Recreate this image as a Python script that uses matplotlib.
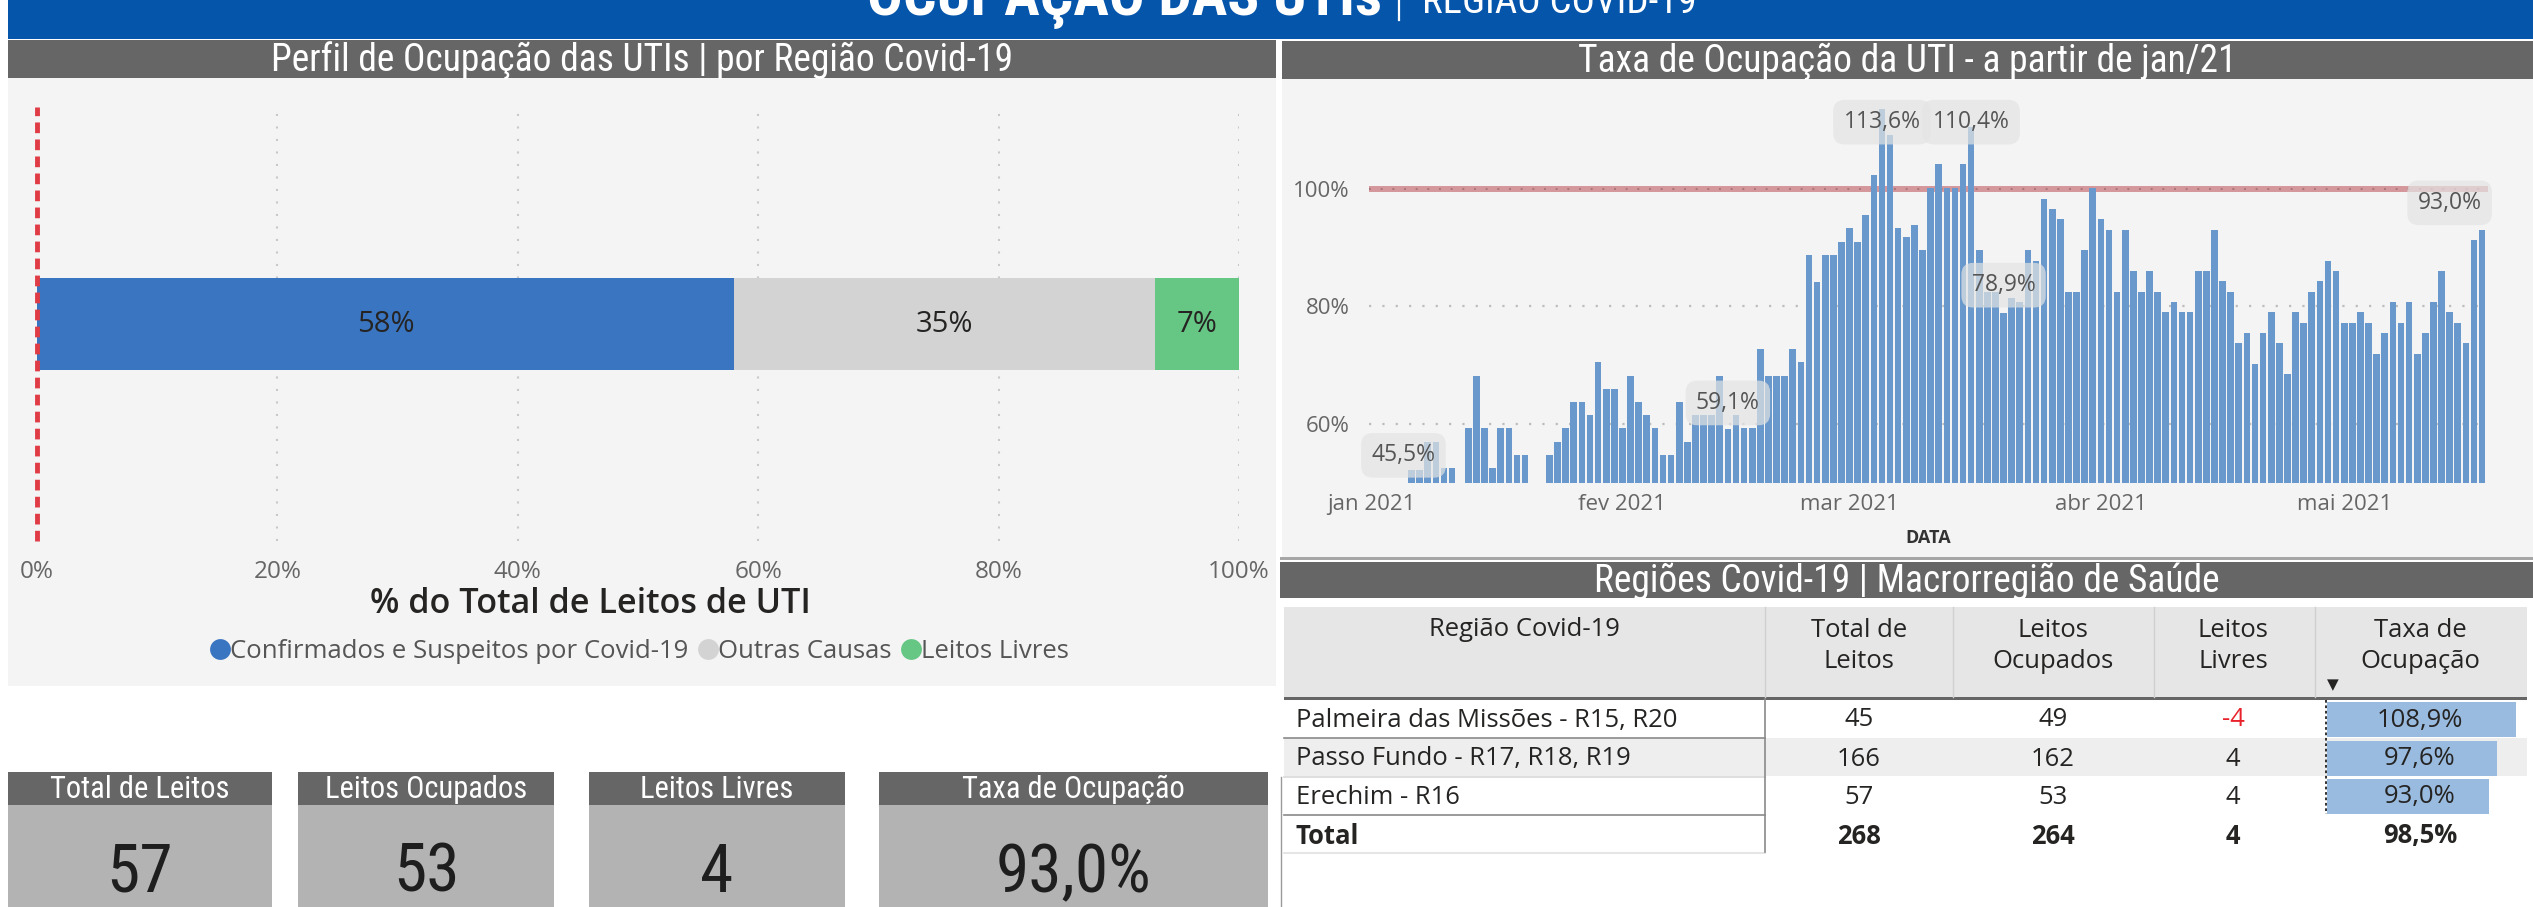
import numpy as np
import pandas as pd
import matplotlib
matplotlib.use("Agg")
import matplotlib.pyplot as plt
import matplotlib.dates as mdates
from matplotlib import font_manager as fm
from matplotlib.patches import Rectangle
from matplotlib.lines import Line2D

plt.rcParams['font.family'] = ['Open Sans', 'DejaVu Sans']

# ---------------- data ----------------
title_main = "OCUPAÇÃO DAS UTIs"
title_sub = "REGIÃO COVID-19"
panel_titles = ["Perfil de Ocupação das UTIs | por Região Covid-19",
                "Taxa de Ocupação da UTI - a partir de jan/21",
                "Regiões Covid-19 | Macrorregião de Saúde"]

profile_categories = ["Confirmados e Suspeitos por Covid-19", "Outras Causas", "Leitos Livres"]
profile_shares = [58, 35, 7]
profile_colors = ["#3A75C2", "#D3D3D3", "#66C684"]
profile_ticks = [0, 20, 40, 60, 80, 100]
profile_xlabel = "% do Total de Leitos de UTI"

occupancy_start = "2021-01-06"
occupancy_pct = [
    52.2, 52.2, 56.9, 56.9, 52.5, 52.5, np.nan, 59.3, 68.2, 59.3,
    52.5, 59.3, 59.3, 54.7, 54.7, np.nan, np.nan, 54.7, 56.9, 59.3,
    63.8, 63.8, 61.5, 70.6, 66.0, 66.0, 59.3, 68.2, 63.8, 61.5,
    59.3, 54.7, 54.7, 63.8, 56.9, 61.5, 61.5, 61.5, 68.2, 59.1,
    61.5, 59.3, 59.3, 72.8, 68.2, 68.2, 68.2, 72.8, 70.6, 88.8,
    84.2, 88.8, 88.8, 91.0, 93.3, 91.0, 95.5, 102.3, 113.6, 109.1,
    93.3, 91.8, 93.8, 89.6, 100.1, 104.2, 100.1, 100.1, 104.2, 110.4,
    89.6, 82.5, 82.5, 78.9, 81.5, 80.8, 89.6, 87.7, 98.2, 96.6,
    94.9, 82.5, 82.5, 89.6, 100.1, 94.9, 93.0, 82.5, 93.0, 86.0,
    82.5, 86.0, 82.5, 79.1, 80.8, 79.1, 79.1, 86.0, 86.0, 93.0,
    84.4, 82.5, 73.8, 75.5, 70.3, 75.5, 79.1, 73.8, 68.6, 79.1,
    77.2, 82.5, 84.4, 87.7, 86.0, 77.2, 77.2, 79.1, 77.2, 72.0,
    75.5, 80.8, 77.2, 80.8, 72.0, 75.5, 80.8, 86.0, 79.1, 77.2,
    73.8, 91.3, 93.0,
]
month_ticks = ["2021-01-01", "2021-02-01", "2021-03-01", "2021-04-01", "2021-05-01"]
month_labels = ["jan 2021", "fev 2021", "mar 2021", "abr 2021", "mai 2021"]
occ_yticks = [60, 80, 100]
reference_level = 100
callout_dates = ["2021-01-05", "2021-02-14", "2021-03-05", "2021-03-16", "2021-03-20", "2021-05-14"]
callout_texts = ["45,5%", "59,1%", "113,6%", "110,4%", "78,9%", "93,0%"]
callout_levels = [54.7, 63.6, 111.3, 111.3, 83.6, 97.6]

table_columns = ["Região Covid-19", "Total de\nLeitos", "Leitos\nOcupados", "Leitos\nLivres", "Taxa de\nOcupação"]
regions = ["Palmeira das Missões - R15, R20", "Passo Fundo - R17, R18, R19", "Erechim - R16"]
total_beds = [45, 166, 57]
occupied_beds = [49, 162, 53]
free_beds = [-4, 4, 4]
occupancy_rate = [108.9, 97.6, 93.0]
total_label = "Total"
total_rate = 98.5

kpi_titles = ["Total de Leitos", "Leitos Ocupados", "Leitos Livres", "Taxa de Ocupação"]
kpi_values = ["57", "53", "4", "93,0%"]


# ---------------- condensed font lookup ----------------
def _wnum(w):
    if isinstance(w, (int, float)):
        return w
    return fm.weight_dict.get(str(w).lower(), 400)


def narrow_font(bold=False):
    prefs = ['liberationsansnarrow', 'robotocondensed', 'notosans-condensed',
             'dejavusanscondensed', 'opensanscondensed', 'opensans_condensed',
             'notosansdisplay-condensed', 'condensed', 'narrow']
    best = None
    for f in fm.fontManager.ttflist:
        fn = f.fname.lower().replace(' ', '')
        base = fn.split('/')[-1]
        if f.style != 'normal' or 'italic' in base:
            continue
        if 'extra' in base or 'ultra' in base or 'semi' in base:
            continue
        st = str(f.stretch).lower()
        cond = ('narrow' in base or 'condensed' in base or 'condensed' in st
                or (isinstance(f.stretch, int) and f.stretch < 500))
        if not cond:
            continue
        w = _wnum(f.weight)
        if bold and w < 600:
            continue
        if not bold and not (350 <= w <= 500):
            continue
        rank = next((i for i, p in enumerate(prefs) if p in base), len(prefs))
        if best is None or rank < best[0]:
            best = (rank, f.fname)
    if best is not None:
        return fm.FontProperties(fname=best[1])
    return fm.FontProperties(family=['Roboto', 'DejaVu Sans'],
                             weight='bold' if bold else 'normal')


NARROW = narrow_font(False)
NARROW_B = narrow_font(True)

# ---------------- figure ----------------
W, H = 2533, 907
DPI = 100
fig = plt.figure(figsize=(W / DPI, H / DPI), dpi=DPI, facecolor='white')
renderer = fig.canvas.get_renderer()


def frect(x0, y0, x1, y1):
    return [x0 / W, 1 - y1 / H, (x1 - x0) / W, (y1 - y0) / H]


bg = fig.add_axes([0, 0, 1, 1])
bg.set_xlim(0, W)
bg.set_ylim(H, 0)
bg.axis('off')


def box(x0, y0, x1, y1, color, z=0):
    bg.add_patch(Rectangle((x0, y0), x1 - x0, y1 - y0, facecolor=color,
                           edgecolor='none', zorder=z))


def hline(x0, x1, y, color, lw=1.0, ls='-', z=3):
    bg.add_line(Line2D([x0, x1], [y, y], color=color, lw=lw, ls=ls, zorder=z))


def vline(x, y0, y1, color, lw=1.0, ls='-', z=3):
    bg.add_line(Line2D([x, x], [y0, y1], color=color, lw=lw, ls=ls, zorder=z))


def fit(t, target_w, max_size=None):
    w = t.get_window_extent(renderer).width
    s = t.get_fontsize() * target_w / max(w, 1)
    if max_size is not None:
        s = min(s, max_size)
    t.set_fontsize(s)
    return t


def fitted_size(s, fp, size, target_w):
    p = fp.copy()
    p.set_size(size)
    t = bg.text(0, 0, s, fontproperties=p)
    w = t.get_window_extent(renderer).width
    t.remove()
    return size * target_w / max(w, 1)


def ntext(x, y, s, fp, size, target_w=None, max_size=None, **kw):
    ns = size if target_w is None else fitted_size(s, fp, size, target_w)
    if max_size is not None:
        ns = min(ns, max_size)
    p = fp.copy()
    p.set_size(ns)
    return bg.text(x, y, s, fontproperties=p, zorder=5, **kw)


# title bar
box(8, 0, W, 39, '#0555AB')
ntext(867, 15, title_main, NARROW_B, 40, 514, color='white', ha='left', va='baseline')
vline(1399, 0, 20, 'white', lw=1.6, z=5)
ntext(1422, 13, title_sub, NARROW, 26, 275, max_size=30, color='white', ha='left', va='baseline')

# panel backgrounds and headers
box(8, 40, 1276, 78, '#666666', 1)
box(8, 78, 1276, 686, '#F4F4F4', 0)
box(1282, 41, W, 79, '#666666', 1)
box(1282, 79, W, 557, '#F4F4F4', 0)
box(1280, 557, W, 560, '#A6A6A6', 1)
box(1280, 562, W, 598, '#666666', 1)
for (cx, cy, tw), t in zip([(642, 60, 754), (1907, 61, 659), (1907, 581, 645)], panel_titles):
    ntext(cx, cy, t, NARROW, 24, tw, max_size=27, color='white', ha='center', va='center')

# ---------------- left chart: stacked bar ----------------
ax1 = fig.add_axes(frect(37, 107, 1239, 541))
ax1.set_facecolor('none')
left = 0
for share, color in zip(profile_shares, profile_colors):
    ax1.barh(0, share, left=left, height=0.424, color=color, zorder=2)
    ax1.text(left + share / 2, 0, f"{share}%", ha='center', va='center',
             fontsize=21, color='#252423', zorder=3)
    left += share
ax1.set_xlim(0, 100)
ax1.set_ylim(-1, 1)
for t in profile_ticks[1:]:
    ax1.axvline(t, color='#C8C8C8', lw=1.5, ls=(0, (1, 5)), zorder=0)
ax1.axvline(0, color='#E03C46', lw=3.5, ls=(0, (2.2, 1.3)), zorder=4, clip_on=False)
ax1.set_xticks(profile_ticks)
ax1.set_xticklabels([f"{t}%" for t in profile_ticks])
ax1.tick_params(axis='x', length=0, pad=14, labelsize=17.5, labelcolor='#666666')
ax1.set_yticks([])
for s in ax1.spines.values():
    s.set_visible(False)
xl = bg.text(590, 604, profile_xlabel, fontsize=20, fontweight='semibold',
             color='#252423', ha='center', va='center', zorder=5)
fit(xl, 440)
handles = [Line2D([], [], marker='o', ls='none', markersize=15, markerfacecolor=c,
                  markeredgecolor='none') for c in profile_colors]
leg = bg.legend(handles, profile_categories, loc='center',
                bbox_to_anchor=(640 / W, 1 - 651 / H), bbox_transform=fig.transFigure,
                ncol=3, frameon=False, fontsize=18.5, handlelength=0.7,
                handletextpad=0.05, columnspacing=0.4, labelcolor='#555555')

# ---------------- right chart: daily occupancy ----------------
ax2 = fig.add_axes(frect(1369, 94.5, 2488, 483))
ax2.set_facecolor('none')
vals = np.array(occupancy_pct, dtype=float)
dates = pd.date_range(occupancy_start, periods=len(vals), freq='D')
mask = ~np.isnan(vals)
ax2.bar(dates[mask], vals[mask], width=0.82, color='#6898CC', zorder=2)
ax2.axhline(reference_level, color='#D4979C', lw=4.3, zorder=1)
ax2.axhline(reference_level, color='#A8777B', lw=1.4, ls=(0, (1, 5)), zorder=1.1)
for v in occ_yticks[:-1]:
    ax2.axhline(v, color='#BDBDBD', lw=1.6, ls=(0, (1, 5)), zorder=0.5)
x0 = mdates.date2num(pd.Timestamp(month_ticks[0])) - 0.25
ax2.set_xlim(x0, x0 + 137.98)
ax2.set_ylim(50, 116)
ax2.set_yticks(occ_yticks)
ax2.set_yticklabels([f"{v}%" for v in occ_yticks])
ax2.set_xticks(pd.to_datetime(month_ticks))
ax2.set_xticklabels(month_labels)
ax2.tick_params(axis='y', length=0, pad=14, labelsize=16, labelcolor='#666666')
ax2.tick_params(axis='x', length=0, pad=8, labelsize=16, labelcolor='#666666')
for s in ax2.spines.values():
    s.set_visible(False)
for d, t, lv in zip(callout_dates, callout_texts, callout_levels):
    ax2.text(pd.Timestamp(d), lv, t, ha='center', va='center', fontsize=16.5,
             color='#555555', zorder=4, clip_on=False,
             bbox=dict(boxstyle='round,pad=0.45,rounding_size=0.5', fc='#E4E4E4',
                       ec='none', alpha=0.7))
bg.text(1928, 538, "DATA", fontsize=13, fontweight='bold', color='#333333',
        ha='center', va='center', zorder=5)

# ---------------- table ----------------
col_x = [1296, 1859, 2053, 2233, 2420]
row_y = [720, 759, 797]
total_y = 836
box(1284, 607, 2527, 697, '#E6E6E6', 1)
for x in [1765, 1953, 2154, 2315]:
    vline(x, 607, 697, '#D0D0D0', lw=1.0)
box(1284, 697, 2527, 699.5, '#666666', 2)
box(1284, 738, 2527, 776, '#EEEEEE', 1)
hline(1284, 1765, 737.5, '#8A8A8A', lw=1.2)
hline(1284, 1765, 776.5, '#D8D8D8', lw=1.2)
hline(1284, 1765, 814.5, '#8A8A8A', lw=1.2)
hline(1284, 1765, 852.5, '#E0E0E0', lw=1.2)
vline(1765, 699, 852, '#8A8A8A', lw=1.2)
vline(1280.5, 777, 907, '#9A9A9A', lw=1.0)

tcol = '#252423'
first = bg.text(col_x[0], row_y[0], regions[0], fontsize=18, color=tcol,
                ha='left', va='center', zorder=5)
fit(first, 381)
fs = first.get_fontsize()

bg.text(1524, 629, table_columns[0], fontsize=fs, color=tcol, ha='center', va='center', zorder=5)
for cx, lab in zip(col_x[1:], table_columns[1:]):
    bg.text(cx, 646, lab, fontsize=fs, color=tcol, ha='center', va='center',
            linespacing=1.35, zorder=5)
bg.text(2333, 685, "▼", family=['DejaVu Sans'], fontsize=11, color='#252423',
        ha='center', va='center', zorder=5)

rate_scale = 1.74
for i, ry in enumerate(row_y):
    bar_w = occupancy_rate[i] * rate_scale
    box(2327, ry - 18, 2327 + bar_w, ry + 17, '#99BBDF', 2)
    if i > 0:
        bg.text(col_x[0], ry, regions[i], fontsize=fs, color=tcol, ha='left', va='center', zorder=5)
    bg.text(col_x[1], ry, str(total_beds[i]), fontsize=fs, color=tcol, ha='center', va='center', zorder=5)
    bg.text(col_x[2], ry, str(occupied_beds[i]), fontsize=fs, color=tcol, ha='center', va='center', zorder=5)
    bg.text(col_x[3], ry, str(free_beds[i]), fontsize=fs,
            color='#E8212B' if free_beds[i] < 0 else tcol, ha='center', va='center', zorder=5)
    bg.text(col_x[4], ry, f"{occupancy_rate[i]:.1f}%".replace('.', ','), fontsize=fs,
            color=tcol, ha='center', va='center', zorder=5)
vline(2325.5, 700, 814, '#222222', lw=1.3, ls=(0, (1.5, 1.5)), z=4)

tot_vals = [total_label, str(sum(total_beds)), str(sum(occupied_beds)), str(sum(free_beds)),
            f"{total_rate:.1f}%".replace('.', ',')]
bg.text(col_x[0], total_y, tot_vals[0], fontsize=fs, fontweight='bold', color=tcol,
        ha='left', va='center', zorder=5)
for cx, v in zip(col_x[1:], tot_vals[1:]):
    bg.text(cx, total_y, v, fontsize=fs, fontweight='bold', color=tcol,
            ha='center', va='center', zorder=5)

# ---------------- KPI cards ----------------
cards = [(8, 272), (298, 554), (589, 845), (879, 1268)]
kpi_title_w = [191, 214, 170, 229]
value_size = min(56, 0.5 * (fitted_size(kpi_values[0], NARROW, 50, 65)
                            + fitted_size(kpi_values[3], NARROW, 50, 159)))
for (cx0, cx1), t, v, tw in zip(cards, kpi_titles, kpi_values, kpi_title_w):
    box(cx0, 772, cx1, 805, '#666666', 1)
    box(cx0, 805, cx1, H, '#B3B3B3', 1)
    ntext((cx0 + cx1) / 2, 789, t, NARROW, 20, tw, max_size=22, color='white',
          ha='center', va='center')
    ntext((cx0 + cx1) / 2, 906, v, NARROW, value_size, color='#1E1E1E',
          ha='center', va='bottom')

fig.savefig("out.png", dpi=DPI, facecolor='white')
